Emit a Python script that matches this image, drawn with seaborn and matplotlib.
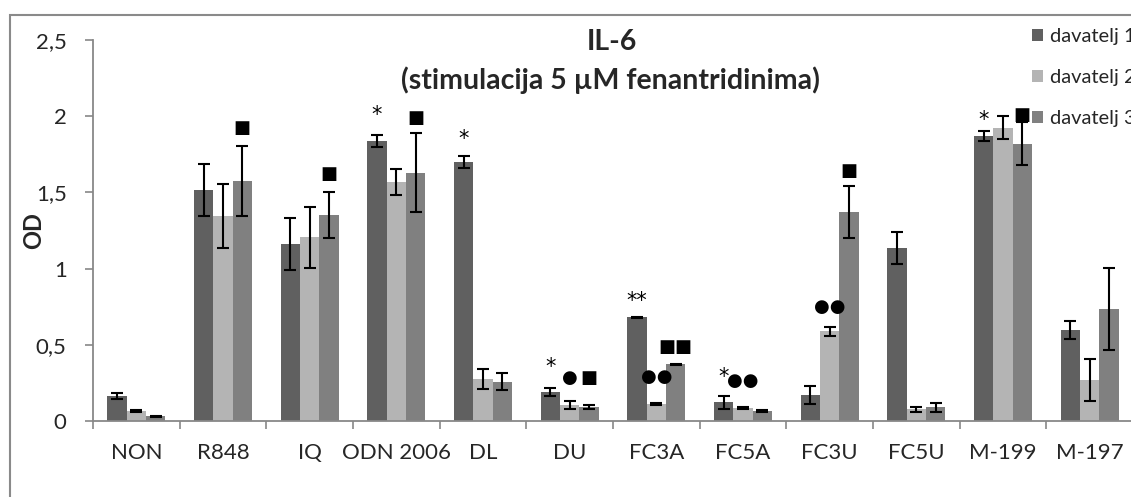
import numpy as np
import pandas as pd
import matplotlib
matplotlib.use("Agg")
import matplotlib.pyplot as plt
import seaborn as sns
from matplotlib.patches import Rectangle
from matplotlib.ticker import FuncFormatter, FixedLocator

# IL-6 optical density after stimulation, three donors
categories = ["NON", "R848", "IQ", "ODN 2006", "DL", "DU", "FC3A", "FC5A",
              "FC3U", "FC5U", "M-199", "M-197"]
donors = ["davatelj 1", "davatelj 2", "davatelj 3"]

od_donor1 = [0.164, 1.516, 1.163, 1.837, 1.700, 0.188, 0.682, 0.122, 0.170, 1.133, 1.870, 0.597]
od_donor2 = [0.064, 1.345, 1.207, 1.570, 0.273, 0.103, 0.114, 0.087, 0.590, 0.077, 1.925, 0.270]
od_donor3 = [0.030, 1.575, 1.350, 1.630, 0.258, 0.094, 0.372, 0.064, 1.370, 0.090, 1.820, 0.733]

sd_donor1 = [0.020, 0.170, 0.170, 0.040, 0.040, 0.027, 0.003, 0.040, 0.057, 0.105, 0.030, 0.056]
sd_donor2 = [0.007, 0.210, 0.200, 0.085, 0.065, 0.025, 0.007, 0.007, 0.030, 0.015, 0.075, 0.140]
sd_donor3 = [0.003, 0.230, 0.150, 0.260, 0.055, 0.012, 0.003, 0.007, 0.170, 0.030, 0.140, 0.270]

# significance marks: (category, donor index, symbol, height)
marks = [
    ("R848", 2, "■", 1.92),
    ("IQ", 2, "■", 1.62),
    ("ODN 2006", 0, "*", 2.05),
    ("ODN 2006", 2, "■", 1.99),
    ("DL", 0, "*", 1.89),
    ("DU", 0, "*", 0.40),
    ("DU", 1, "●", 0.28),
    ("DU", 2, "■", 0.28),
    ("FC3A", 0, "**", 0.83),
    ("FC3A", 1, "●●", 0.29),
    ("FC3A", 2, "■■", 0.486),
    ("FC5A", 0, "*", 0.33),
    ("FC5A", 1, "●●", 0.26),
    ("FC3U", 1, "●●", 0.746),
    ("FC3U", 2, "■", 1.64),
    ("M-199", 0, "*", 2.02),
    ("M-199", 2, "■", 2.01),
]

means = [od_donor1, od_donor2, od_donor3]
sds = [sd_donor1, sd_donor2, sd_donor3]
colors = ["#606060", "#b4b4b4", "#808080"]

df = pd.DataFrame({
    "category": np.tile(categories, 3),
    "donor": np.repeat(donors, len(categories)),
    "OD": np.concatenate(means),
})

sns.set_theme(style="white")
plt.rcParams["font.family"] = ["Lato", "DejaVu Sans"]

W, H = 1131, 497
fig = plt.figure(figsize=(W / 100, H / 100), dpi=100)
ax = fig.add_axes([93 / W, (H - 421) / H, 1040 / W, 381 / H])

sns.barplot(data=df, x="category", y="OD", hue="donor", palette=colors,
            width=0.667, errorbar=None, saturation=1, linewidth=0, ax=ax)

bar_groups = list(ax.containers)
centers = []
for j, cont in enumerate(bar_groups):
    xs = [b.get_x() + b.get_width() / 2 for b in cont]
    centers.append(xs)
    ax.errorbar(xs, means[j], yerr=sds[j], fmt="none", ecolor="black",
                elinewidth=1.5, capsize=4.5, capthick=1.5, zorder=5)

for cat, j, sym, yv in marks:
    i = categories.index(cat)
    if "*" in sym:
        # asterisks sit high in the line box, so anchor on the baseline
        fs = 15
        ax.annotate(sym, (centers[j][i], yv), xytext=(0, -0.6 * fs),
                    textcoords="offset points", ha="center", va="baseline",
                    fontsize=fs, family=["DejaVu Sans"], color="black",
                    zorder=6)
    else:
        ax.text(centers[j][i], yv, sym, ha="center", va="center", fontsize=13,
                family=["DejaVu Sans"], color="black", zorder=6)

ax.set_xlim(-0.5, 11.5)
ax.set_ylim(0, 2.5)
ax.set_yticks([0, 0.5, 1, 1.5, 2, 2.5])
ax.yaxis.set_major_formatter(FuncFormatter(lambda v, p: f"{v:g}".replace(".", ",")))

# category boundaries carry the tick marks, labels sit at the centres
ax.xaxis.set_major_locator(FixedLocator(np.arange(-0.5, 11.0, 1.0)))
ax.xaxis.set_minor_locator(FixedLocator(np.arange(len(categories))))
ax.set_xticklabels([], minor=False)
ax.set_xticklabels(categories, minor=True)
ax.tick_params(axis="x", which="major", length=6, width=1.2, color="#888888",
               direction="out", bottom=True)
ax.tick_params(axis="x", which="minor", length=0, pad=16, labelsize=16)
ax.tick_params(axis="y", length=6, width=1.2, color="#888888", direction="out",
               left=True, pad=13, labelsize=16)

for side in ["top", "right"]:
    ax.spines[side].set_visible(False)
for side in ["left", "bottom"]:
    ax.spines[side].set_color("#888888")
    ax.spines[side].set_linewidth(1.3)

ax.set_xlabel("")
ax.set_ylabel("OD", fontsize=17, fontweight="bold")
ax.yaxis.set_label_coords(-0.046, 0.5)

handles, labels = ax.get_legend_handles_labels()
ax.get_legend().remove()
fig.legend(handles, labels, loc="upper left",
           bbox_to_anchor=(1032 / W, 1 - 28 / H), frameon=False,
           fontsize=14.5, handlelength=0.55, handleheight=0.55,
           handletextpad=0.35, labelspacing=1.2, borderpad=0, borderaxespad=0)

fig.text(612 / W, 1 - 42 / H, "IL-6", ha="center", va="center",
         fontsize=20.5, fontweight="bold")
fig.text(610 / W, 1 - 80 / H, "(stimulacija 5 µM fenantridinima)",
         ha="center", va="center", fontsize=20.5, fontweight="bold")

# outer chart frame
fig.patches.append(Rectangle((10 / W, -0.1), 1.2, 1 - 15 / H + 0.1,
                             transform=fig.transFigure, fill=False,
                             edgecolor="#8a8a8a", linewidth=1.5))

fig.savefig("out.png", dpi=100)
